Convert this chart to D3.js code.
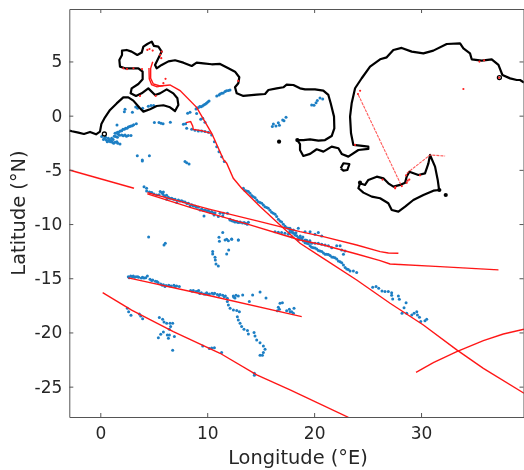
<!DOCTYPE html>
<html lang="en">
	<head>
		<meta charset="utf-8">
		<title>Tracks and coast</title>
		<script src="https://d3js.org/d3.v7.min.js"></script>
		<style>
			html, body { margin: 0; padding: 0; background: #fff; }
			svg { display: block; }
			text { font-family: "DejaVu Sans", sans-serif; fill: #262626; }
		</style>
	</head>
	<body>
		<script>
			// all positions below are [longitude, latitude]
			var lonTicks = [0, 10, 20, 30];
			var latTicks = [5, 0, -5, -10, -15, -20, -25];

			var coastMain = [[-2.9,-1.38],[-2.65,-1.44],[-2.05,-1.57],[-1.53,-1.69],[-0.96,-1.5],[-0.4,-1.72],[-0.03,-1.47],[0.1,-0.77],[0.44,-0.15],[0.91,0.53],[1.53,1.13],[2.15,1.69],[2.62,1.69],[3.09,1.39],[3.71,0.68],[4.03,0.37],[4.65,0.59],[5.27,0.89],[5.9,0.96],[6.52,0.77],[6.99,0.43],[7.3,0.99],[7.21,1.6],[6.83,2.06],[6.21,2.43],[5.58,2.06],[5.12,1.91],[4.49,2.52],[3.87,2.06],[3.34,1.82],[2.84,2.06],[2.93,2.52],[3.56,2.92],[3.96,3.35],[3.96,4.06],[3.56,4.37],[2.93,4.37],[2.31,4.37],[1.84,4.52],[1.78,5.14],[2.03,5.6],[2.03,6],[2.47,6.06],[2.93,5.91],[3.46,5.6],[3.87,5.82],[4.03,6.37],[4.4,6.61],[4.81,6.83],[5.02,6.43],[5.43,6.37],[5.74,5.91],[5.43,5.29],[5.12,4.68],[5.27,4.37],[5.74,4.68],[6.37,5.01],[6.99,5.11],[7.77,4.89],[8.55,4.58],[9.01,4.89],[9.64,4.83],[10.42,4.74],[11.2,4.77],[11.98,4.37],[12.6,4.06],[13,3.54],[12.91,2.99],[12.6,2.62],[12.76,2.06],[13.38,1.82],[14.63,1.94],[15.41,2],[15.72,2.37],[16.5,2.52],[17.12,2.62],[17.43,2.86],[18.06,2.83],[18.68,2.52],[19.15,2.43],[20.08,2.43],[20.86,2.31],[21.33,1.91],[21.55,1.14],[21.86,-0.09],[21.89,-1.17],[21.64,-1.88],[21.02,-2.25],[20.4,-2.31],[19.62,-2.18],[19,-2.25],[18.43,-2.25],[18.68,-2.62],[18.68,-3.17],[18.99,-3.72],[19.62,-3.53],[20.24,-3.1],[20.87,-3.32],[21.64,-2.86],[22.27,-3.01],[22.58,-3.53],[23.2,-3.78],[24.14,-3.17],[25.07,-3.07],[25.07,-2.86],[24.3,-2.77],[23.67,-2.7],[23.45,-1.63],[23.36,-0.09],[23.51,1.14],[23.83,2.53],[24.45,3.45],[25.23,4.52],[26.17,5.2],[26.79,5.38],[27.41,6.06],[28.19,6.25],[29.13,5.91],[30.22,5.75],[31.15,6],[32.4,6.61],[33.65,6.67],[33.96,6.21],[34.58,5.75],[34.74,5.2],[35.68,5.07],[36.61,5.2],[37.24,4.68],[37.61,3.75],[38.33,3.44],[38.95,3.29],[39.26,3.29],[39.63,3.05]];
			var coastIsland = [[22.49,-4.86],[22.74,-4.39],[23.3,-4.46],[23.11,-5.01],[22.74,-5.07],[22.49,-4.86]];
			var coastSouth = [[24.29,-6.24],[24.14,-6.7],[24.61,-7.1],[25.39,-7.47],[26.17,-7.62],[26.94,-8.08],[27.26,-8.7],[27.88,-8.85],[28.51,-8.39],[29.28,-7.78],[30.22,-7.32],[31.16,-6.92],[31.69,-6.86],[31.56,-5.93],[31.31,-4.7],[30.84,-3.63],[30.69,-4.4],[30.37,-5.32],[29.75,-5.47],[28.91,-5.17],[28.66,-5.62],[28.51,-6.18],[28.04,-6.39],[27.42,-6.55],[26.94,-6.24],[26.48,-5.78],[25.86,-5.63],[25.07,-5.93],[24.76,-6.39],[24.29,-6.24]];
			var blackDots = [[16.72,-2.4],[32.31,-7.32],[31.71,-6.86],[24.29,-6.18],[18.43,-2.25]];
			var blackRings = [[0.38,-1.69],[37.33,3.51]];

			var trackWest = [[-2.9,-5.01],[3.15,-6.7]];
			var trackUpper = [[4.4,-7.1],[10.26,-8.64],[14.94,-9.78],[18.68,-10.7],[20.86,-11.16],[23.98,-11.93],[26.17,-12.54],[26.94,-12.67],[27.88,-12.7]];
			var trackLower = [[4.4,-7.22],[8.7,-8.55],[13.69,-9.99],[17.43,-11.1],[18.68,-11.47],[20.86,-11.93],[23.98,-12.76],[26.17,-13.37],[27.1,-13.68],[31.78,-13.93],[37.24,-14.23]];
			var trackDiagonal = [[4.9,4.98],[4.71,4.37],[4.71,3.44],[4.96,2.92],[5.58,2.74],[6.52,2.83],[7.46,2.31],[9.01,0.77],[10.42,-1.63],[11.51,-4.03],[11.82,-4.39],[12.44,-5.78],[13.22,-6.7],[14.94,-8.39],[16.81,-10.08],[18.68,-11.77],[20.86,-13.16],[23.98,-15.16],[27.1,-17.31],[30.22,-19.31],[33.34,-21.61],[35.83,-23.31],[39.63,-25.61]];
			var trackHarbour = [[4.55,4.4],[4.58,3.4],[4.8,2.85],[5.3,2.66],[5.9,2.78]];
			var trackHook = [[8.02,-0.64],[8.45,-0.55],[8.64,-0.95],[8.7,-1.26],[9.48,-1.38],[10.36,-1.63]];
			var trackMiddle = [[2.62,-14.97],[9.95,-16.54],[18.84,-18.54]];
			var trackSouth = [[0.22,-16.33],[2.93,-17.93],[6.83,-19.92],[11.2,-21.92],[14.63,-23.92],[17.75,-25.3],[23.2,-27.83]];
			var trackEast = [[29.53,-23.68],[31.15,-22.78],[33.34,-21.77],[35.83,-20.75],[37.7,-20.14],[39.63,-19.7]];
			var trackStrait = [[24.14,1.91],[28.13,-6.39]];
			var trackCape = [[28.66,-5.32],[30.84,-3.63],[32.25,-3.72]];
			var redDots = [[33.96,2.46],[35.46,4.99],[3.71,1.82],[5.18,1.82],[2.16,4.37],[3.1,4.37],[3.9,4.3],[12.9,3.2],[5.74,5.9],[4.4,6.06],[4.6,6.15],[27.57,-6.7],[28.66,-6.2],[29.9,-5.5],[23.83,-2.7],[24.3,2.3],[24.1,2.0],[6.1,3.4],[5.9,3],[28.9,-5.9],[35.9,5.1],[5.6,5.6],[5.7,5.3],[2.5,4.3],[4.9,6.0],[27.6,-6.6],[28.2,-6.5],[28.75,-6.0],[28.6,-5.5],[37.3,3.5],[26.4,-5.9]];

			var blueGulfWest = [[1.38,-1.63],[1.62,-1.54],[1.87,-1.41],[2.12,-1.26],[2.37,-1.17],[2.62,-1.04],[2.87,-0.95],[3.12,-0.83],[3.37,-0.74],[0.13,-1.93],[0.38,-2.09],[0.56,-2.24],[0.75,-2.33],[0.94,-2.4],[0.75,-2.09],[1.13,-2.46],[1.38,-2.46],[1.63,-2.55],[1.84,-2.61],[1.69,-1.72],[2,-1.78],[2.31,-1.78],[2.62,-1.84],[2.87,-1.84],[1.44,-1.93],[1.06,-2.09],[1.56,-0.86],[2.31,0.59],[2.25,0.37],[3,0.31],[3.31,0.8],[3.49,0.68],[3.96,0.68],[4.49,0.86],[4.74,0.93],[4.99,0.93],[5.06,-0.64],[5.49,-0.64],[5.68,-0.7],[5.87,-0.74],[6.55,-0.61],[3.46,-3.69],[3.93,-4.18],[3.93,-4.09],[4.59,-3.69],[7.92,-4.24],[8.08,-4.34],[8.3,-4.46],[1.5,-1.6],[1.75,-1.5],[2,-1.4],[2.25,-1.25],[2.5,-1.15],[2.75,-1],[3,-0.92],[0.3,-2.2],[0.5,-2],[0.65,-2.4],[0.85,-2.25],[1,-2.3],[1.25,-2.55],[1.55,-2.4],[1.8,-1.8],[2.15,-1.85],[2.45,-1.9],[1.6,-2],[1.3,-1.9],[1.2,-2.2]];
			var blueGulfEast = [[8.17,0.22],[8.39,0.31],[8.95,0.62],[9.17,0.74],[9.42,0.83],[9.67,0.99],[9.92,1.14],[10.17,1.36],[10.89,1.82],[11.1,1.91],[11.35,2.06],[11.67,2.22],[11.98,2.31],[12.13,2.37],[9.01,0.19],[9.39,-0.34],[9.58,-0.25],[9.79,-0.61],[7.77,-0.8],[7.98,-0.74],[8.08,-1.17],[8.55,-1.26],[8.86,-1.35],[9.17,-1.41],[9.48,-1.41],[9.79,-1.47],[10.11,-1.53],[10.42,-1.78],[10.67,-2.4],[10.89,-2.86],[11.1,-3.32],[11.35,-3.78],[11.6,-4.24],[9.05,0.7],[9.3,0.85],[9.55,0.9],[9.8,1.05],[10.05,1.25],[11.2,2],[11.5,2.1],[11.8,2.3]];
			var blueInland = [[16.09,-1.01],[16.19,-0.77],[16.43,-0.95],[16.65,-0.65],[16.75,-0.89],[17.06,-0.4],[17.37,-0.15],[17.18,-0.46],[19.77,0.99],[19.99,0.96],[20.18,1.2],[20.3,1.39],[20.55,1.63],[20.8,1.54]];
			var blueBandNorth = [[4.09,-6.55],[4.33,-6.7],[4.33,-6.95],[4.59,-7.04],[4.81,-7.1],[5.02,-7.22],[5.74,-7.1],[5.84,-7.22],[6.05,-7.41],[6.36,-7.53],[6.68,-7.62],[6.99,-7.71],[7.3,-7.78],[7.61,-7.84],[7.92,-7.96],[8.24,-8.09],[8.55,-8.21],[8.86,-8.33],[9.17,-8.45],[9.48,-8.61],[9.79,-8.7],[10.11,-8.76],[10.42,-8.85],[10.73,-8.95],[11.2,-9.01],[11.51,-9.01],[11.89,-9.01],[10.64,-9.16],[11.04,-9.31],[11.45,-9.25],[12.13,-9.56],[12.45,-9.71],[12.76,-9.78],[13.07,-9.81],[13.54,-9.93],[13.85,-9.84],[9.7,-9.25],[5.27,-7.32],[6.21,-7.71],[7.15,-8.01],[8.39,-8.33],[9.33,-8.7],[4.7,-7.12],[5.5,-7.3],[5.95,-7.4],[6.5,-7.62],[6.85,-7.72],[7.45,-7.88],[7.77,-7.95],[8.1,-8.1],[8.7,-8.33],[9,-8.45],[9.6,-8.72],[9.95,-8.78],[10.25,-8.9],[10.55,-8.98],[5.6,-7],[5.9,-7.05],[6.2,-7.35],[12.3,-9.7],[12.6,-9.8],[12.9,-9.85],[13.3,-9.9],[13.7,-9.98]];
			var blueMidGap = [[4.52,-11.19],[5.96,-11.93],[6.08,-11.78],[11.45,-10.79],[11.1,-11.22],[11.14,-11.59],[11.67,-11.47],[11.82,-11.4],[11.98,-11.53],[12.29,-11.41],[12.91,-11.47],[10.51,-12.54],[10.51,-12.76],[12.01,-12.39],[11.82,-12.76],[10.73,-13.07],[10.76,-13.32],[10.82,-13.68],[11.04,-13.87]];
			var blueDiagonal = [[13.38,-6.7],[13.69,-6.95],[14,-7.16],[14.32,-7.47],[14.63,-7.78],[14.94,-8],[15.25,-8.24],[15.56,-8.48],[15.87,-8.73],[16.19,-9.01],[16.5,-9.31],[16.81,-9.71],[17.12,-10.02],[17.43,-10.33],[17.74,-10.54],[18.06,-10.85],[18.37,-11.07],[18.68,-11.31],[18.99,-11.56],[19.31,-11.77],[19.62,-11.99],[19.93,-12.18],[20.24,-12.3],[20.55,-12.48],[20.87,-12.67],[21.18,-12.79],[21.49,-12.91],[21.8,-13.07],[22.11,-13.22],[22.43,-13.47],[22.74,-13.77],[23.05,-14.14],[23.36,-14.33],[23.67,-14.33],[23.98,-14.48],[13.53,-6.9],[13.85,-7],[14.16,-7.37],[14.48,-7.58],[14.78,-7.95],[15.1,-8.08],[15.4,-8.4],[15.71,-8.55],[16.03,-8.9],[16.35,-9.1],[16.65,-9.55],[16.96,-9.82],[17.28,-10.2],[17.58,-10.38],[17.9,-10.75],[18.2,-10.9],[18.52,-11.24],[18.84,-11.38],[19.15,-11.72],[19.46,-11.82],[19.77,-12.14],[20.08,-12.2],[20.4,-12.44],[20.71,-12.54],[21.03,-12.78],[21.33,-12.82],[21.65,-13.03],[21.95,-13.1],[22.27,-13.4],[22.58,-13.58],[22.9,-14],[23.2,-14.2]];
			var blueCrossing = [[16.34,-10.7],[16.65,-10.76],[16.96,-10.79],[17.27,-10.85],[17.59,-10.94],[17.9,-11.16],[18.21,-11.01],[18.52,-11.47],[18.84,-11.31],[19.15,-11.47],[19.46,-11.68],[19.77,-11.77],[20.08,-11.77],[20.39,-11.77],[20.71,-11.87],[21.02,-11.93],[21.33,-11.99],[21.64,-12.18],[22.11,-11.99],[22.43,-11.99],[22.58,-12.39],[22.89,-12.48],[22.74,-12.79],[17.74,-10.39],[18.06,-10.54],[18.52,-10.39],[19.15,-10.7],[19.62,-10.7],[20.08,-10.94],[20.39,-10.79],[20.71,-11.1],[12.13,-9.62],[12.45,-9.72],[12.76,-9.78],[13.07,-9.84],[13.45,-9.85],[13.75,-10.02],[12.29,-11.37],[12.91,-11.47],[18.3,-10.8],[18.7,-11.1],[18.95,-11.2],[19.3,-11.5],[19.6,-11.55],[17.95,-10.65],[17.7,-10.75]];
			var blueTail = [[25.48,-15.84],[25.79,-15.77],[26.04,-15.93],[26.35,-16.17],[26.63,-16.23],[26.94,-16.23],[27.25,-16.33],[27.25,-16.57],[27.35,-16.91],[27.88,-16.63],[27.97,-16.94],[28.6,-17.25],[28.41,-17.71],[28.22,-18.23],[28.66,-18.23],[29.13,-18.39],[29.35,-18.23],[29.6,-18.08],[29.66,-18.39],[29.85,-18.6],[29.97,-19],[30.37,-18.91],[30.53,-18.79]];
			var blueBandMiddle = [[2.62,-14.85],[2.84,-14.79],[3.09,-14.79],[3.34,-14.85],[3.59,-14.91],[3.84,-14.97],[4.09,-14.97],[4.4,-14.79],[4.65,-15.1],[4.9,-15.16],[5.15,-15.28],[5.4,-15.4],[5.65,-15.53],[5.9,-15.59],[6.15,-15.68],[6.4,-15.65],[6.64,-15.71],[6.89,-15.65],[7.14,-15.71],[7.39,-15.77],[8.45,-16.14],[8.7,-16.14],[8.95,-16.23],[9.2,-16.14],[9.45,-16.33],[9.7,-16.45],[9.95,-16.33],[10.2,-16.45],[10.45,-16.39],[10.7,-16.39],[10.95,-16.51],[11.2,-16.51],[11.45,-16.57],[11.7,-16.63],[11.88,-16.85],[12.44,-16.63],[12.69,-16.57],[12.6,-16.82],[12.91,-16.63],[13.32,-16.54],[14.25,-16.54],[14.94,-16.26],[15.5,-16.82],[13.94,-17.15],[2.7,-14.95],[3,-14.85],[3.2,-14.9],[3.5,-14.85],[3.95,-14.9],[4.25,-14.95],[4.8,-15.2],[5.3,-15.3],[5.8,-15.65],[6.05,-15.75],[6.5,-15.72],[7,-15.75],[8.6,-16.2],[9.1,-16.2],[9.3,-16.4],[9.85,-16.45],[10.1,-16.5],[10.6,-16.45],[11.1,-16.6],[11.6,-16.7],[12.5,-16.75]];
			var blueCurve = [[11.88,-17.15],[11.98,-17.46],[12.14,-17.77],[12.45,-17.92],[12.76,-17.98],[13.01,-18.08],[12.82,-18.54],[12.91,-18.85],[13.07,-19.16],[13.22,-19.46],[13.44,-19.71],[13.76,-19.83],[13.85,-20.14],[14.38,-20.01],[14.47,-20.32],[14.63,-20.69],[14.94,-20.94],[15.25,-21.25],[15.41,-21.55],[15.25,-21.86],[14.94,-22.1],[15.16,-22.1]];
			var blueEastEnd = [[16.56,-17.99],[16.65,-17.68],[16.81,-17.31],[17.03,-17.25],[16.75,-17.87],[17.43,-17.99],[17.68,-17.87],[17.9,-18.08],[18.12,-17.77],[18.06,-18.23],[17.75,-18.08]];
			var blueSouth = [[2.53,-17.77],[2.65,-18.08],[2.87,-18.42],[3.65,-18.29],[3.78,-18.48],[3.96,-18.73],[5.52,-18.63],[5.83,-18.79],[5.96,-19.03],[6.21,-19.16],[6.52,-19.16],[6.77,-19.16],[6.58,-19.46],[6.46,-19.71],[5.9,-19.95],[5.65,-20.17],[5.43,-20.48],[6.27,-20.23],[6.46,-20.23],[6.37,-20.54],[6.93,-20.38],[6.77,-21.65],[9.58,-21.25],[10.2,-21.49],[10.42,-21.43],[10.67,-21.4],[11.35,-21.86],[14.41,-23.77],[14.41,-23.95]];

			var blueSets = [blueGulfWest, blueGulfEast, blueInland, blueBandNorth, blueMidGap, blueDiagonal, blueCrossing, blueTail, blueBandMiddle, blueCurve, blueEastEnd, blueSouth];
			var solidTracks = [trackWest, trackUpper, trackLower, trackDiagonal, trackHarbour, trackHook, trackMiddle, trackSouth, trackEast];
			var faintTracks = [trackStrait, trackCape];
			var coasts = [coastMain, coastIsland, coastSouth];

			var w = 524;
			var h = 470;

			var x = d3.scaleLinear().domain([-2.9, 39.63]).range([69.3, 524]);
			var y = d3.scaleLinear().domain([9.84, -27.8]).range([9, 417]);

			var svg = d3.select("body")
						.append("svg")
						.attr("width", w)
						.attr("height", h);

			// the reference is slightly soft, it was scaled down from a bigger figure
			svg.append("filter").attr("id", "soft")
				.append("feGaussianBlur").attr("stdDeviation", 0.35);

			svg.append("clipPath").attr("id", "plot")
				.append("rect")
				.attr("x", x.range()[0])
				.attr("y", y.range()[0])
				.attr("width", x.range()[1] - x.range()[0])
				.attr("height", y.range()[1] - y.range()[0]);

			var root = svg.append("g").attr("filter", "url(#soft)");
			var plot = root.append("g").attr("clip-path", "url(#plot)");
			var line = d3.line().x(function(d) { return x(d[0]); }).y(function(d) { return y(d[1]); });

			plot.selectAll("circle.blue")
				.data(d3.merge(blueSets))
				.enter()
				.append("circle")
				.attr("class", "blue")
				.attr("cx", function(d) { return x(d[0]); })
				.attr("cy", function(d) { return y(d[1]); })
				.attr("r", 1.5)
				.attr("fill", "#1f7fc4");

			plot.selectAll("path.coast")
				.data(coasts)
				.enter()
				.append("path")
				.attr("class", "coast")
				.attr("d", line)
				.attr("fill", "none")
				.attr("stroke", "#000")
				.attr("stroke-width", 2.2)
				.attr("stroke-linejoin", "round");

			plot.selectAll("circle.dot")
				.data(blackDots)
				.enter()
				.append("circle")
				.attr("class", "dot")
				.attr("cx", function(d) { return x(d[0]); })
				.attr("cy", function(d) { return y(d[1]); })
				.attr("r", 2.1)
				.attr("fill", "#000");

			plot.selectAll("circle.ring")
				.data(blackRings)
				.enter()
				.append("circle")
				.attr("class", "ring")
				.attr("cx", function(d) { return x(d[0]); })
				.attr("cy", function(d) { return y(d[1]); })
				.attr("r", 2)
				.attr("fill", "none")
				.attr("stroke", "#000")
				.attr("stroke-width", 1.3);

			plot.selectAll("path.track")
				.data(solidTracks)
				.enter()
				.append("path")
				.attr("class", "track")
				.attr("d", line)
				.attr("fill", "none")
				.attr("stroke", "#ff1818")
				.attr("stroke-width", 1.4);

			plot.selectAll("path.faint")
				.data(faintTracks)
				.enter()
				.append("path")
				.attr("class", "faint")
				.attr("d", line)
				.attr("fill", "none")
				.attr("stroke", "#ff3030")
				.attr("stroke-width", 1.1)
				.attr("stroke-dasharray", "3 1")
				.attr("opacity", 0.8);

			plot.selectAll("circle.red")
				.data(redDots)
				.enter()
				.append("circle")
				.attr("class", "red")
				.attr("cx", function(d) { return x(d[0]); })
				.attr("cy", function(d) { return y(d[1]); })
				.attr("r", 1.1)
				.attr("fill", "#ff2020");

			// box with ticks pointing in on all four sides
			function styleAxis(g) {
				g.selectAll(".domain").attr("stroke", "#555").attr("stroke-width", 1);
				g.selectAll("line").attr("stroke", "#555");
				g.selectAll("text").attr("font-size", 17).attr("fill", "#262626")
					.style("font-family", '"DejaVu Sans", sans-serif');
			}

			var tick = 4;
			var fmt = function(d) { return String(d); };

			root.append("g")
				.attr("transform", "translate(0," + y.range()[1] + ")")
				.call(d3.axisBottom(x).tickValues(lonTicks).tickFormat(fmt).tickSizeInner(-tick).tickSizeOuter(0).tickPadding(10))
				.call(styleAxis);
			root.append("g")
				.attr("transform", "translate(0," + y.range()[0] + ")")
				.call(d3.axisTop(x).tickValues(lonTicks).tickFormat("").tickSizeInner(-tick).tickSizeOuter(0))
				.call(styleAxis);
			root.append("g")
				.attr("transform", "translate(" + x.range()[0] + ",0)")
				.call(d3.axisLeft(y).tickValues(latTicks).tickFormat(fmt).tickSizeInner(-tick).tickSizeOuter(0).tickPadding(7))
				.call(styleAxis);
			root.append("g")
				.attr("transform", "translate(" + (x.range()[1] - 0.5) + ",0)")
				.call(d3.axisRight(y).tickValues(latTicks).tickFormat("").tickSizeInner(-tick).tickSizeOuter(0))
				.call(styleAxis);

			root.append("text")
				.attr("x", 298)
				.attr("y", 464)
				.attr("text-anchor", "middle")
				.attr("font-size", 19.4)
				.text("Longitude (°E)");

			root.append("text")
				.attr("transform", "translate(25,213) rotate(-90)")
				.attr("text-anchor", "middle")
				.attr("font-size", 19.4)
				.text("Latitude (°N)");
		</script>
	</body>
</html>
